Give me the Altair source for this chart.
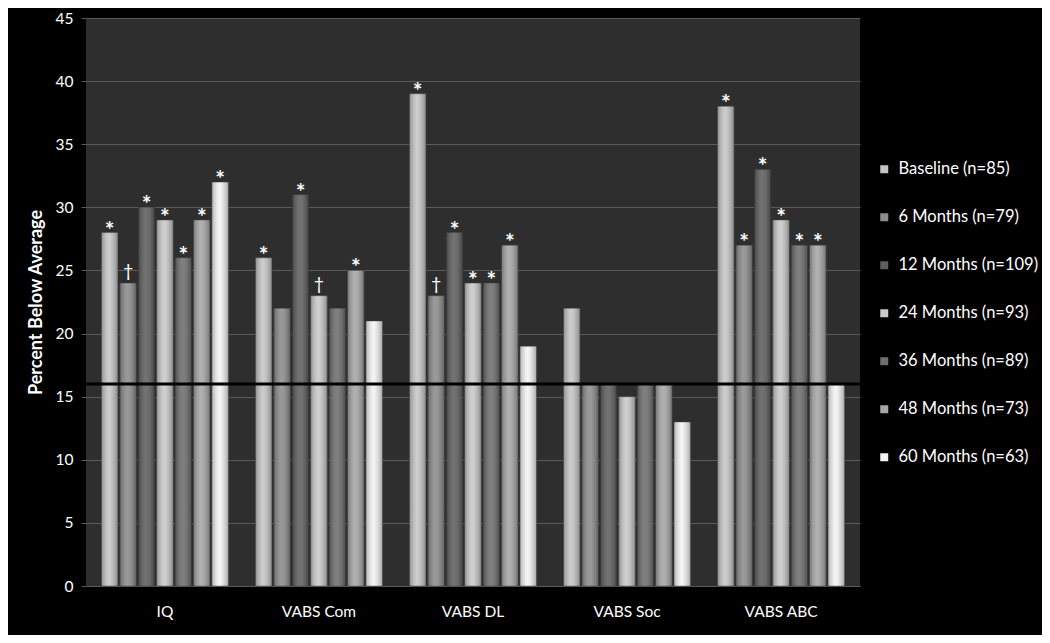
import altair as alt
import pandas as pd

measures = ["IQ", "VABS Com", "VABS DL", "VABS Soc", "VABS ABC"]
series = ["Baseline (n=85)", "6 Months (n=79)", "12 Months (n=109)", "24 Months (n=93)",
          "36 Months (n=89)", "48 Months (n=73)", "60 Months (n=63)"]
colors = ["#c6c6c6", "#8c8c8c", "#5e5e5e", "#cacaca", "#6e6e6e", "#a6a6a6", "#f4f4f4"]

baseline = [28, 26, 39, 22, 38]
m6 = [24, 22, 23, 16, 27]
m12 = [30, 31, 28, 16, 33]
m24 = [29, 23, 24, 15, 29]
m36 = [26, 22, 24, 16, 27]
m48 = [29, 25, 27, 16, 27]
m60 = [32, 21, 19, 13, 16]

baseline_sig = ["*", "*", "*", "", "*"]
m6_sig = ["†", "", "†", "", "*"]
m12_sig = ["*", "*", "*", "", "*"]
m24_sig = ["*", "†", "*", "", "*"]
m36_sig = ["*", "", "*", "", "*"]
m48_sig = ["*", "*", "*", "", "*"]
m60_sig = ["*", "", "", "", ""]

threshold = 16

values = [baseline, m6, m12, m24, m36, m48, m60]
sigs = [baseline_sig, m6_sig, m12_sig, m24_sig, m36_sig, m48_sig, m60_sig]
rows = []
for s, vals, sg in zip(series, values, sigs):
    for m, v, g in zip(measures, vals, sg):
        rows.append({"measure": m, "series": s, "value": v, "sig": g})
df = pd.DataFrame(rows)

FONT = "Lato"

x = alt.X("measure:N", sort=measures, title=None,
          scale=alt.Scale(paddingInner=0.175, paddingOuter=0.1),
          axis=alt.Axis(labelAngle=0, labelColor="white", labelFontSize=15.5, labelFont=FONT,
                        labelPadding=18, ticks=False, domainColor="#5a5a5a", grid=False))
xo = alt.XOffset("series:N", sort=series, scale=alt.Scale(paddingInner=0.1))
y = alt.Y("value:Q", title="Percent Below Average",
          scale=alt.Scale(domain=[0, 45], nice=False),
          axis=alt.Axis(values=list(range(0, 50, 5)), labelColor="white", labelFontSize=15.5,
                        labelFont=FONT, labelPadding=8, tickColor="#5a5a5a", tickSize=5,
                        gridColor="#5a5a5a", gridWidth=1.2, domain=False,
                        titleColor="white", titleFontSize=18, titleFont=FONT,
                        titleFontWeight="bold", titlePadding=10))

base = alt.Chart(df)

bars = base.mark_bar(stroke="#3a3a3a", strokeWidth=0.5).encode(
    x=x, xOffset=xo, y=y,
    color=alt.Color("series:N", sort=series, scale=alt.Scale(domain=series, range=colors),
                    legend=alt.Legend(title=None, orient="none", legendX=790, legendY=143,
                                      symbolType="square", symbolSize=64, symbolStrokeWidth=0,
                                      labelColor="white", labelFontSize=16.5, labelFont=FONT,
                                      rowPadding=31, labelOffset=6)),
)

shade = base.mark_bar(
    color=alt.Gradient(gradient="linear", x1=0, x2=1, y1=0, y2=0,
                       stops=[alt.GradientStop(color="rgba(0,0,0,0.28)", offset=0),
                              alt.GradientStop(color="rgba(255,255,255,0.12)", offset=0.45),
                              alt.GradientStop(color="rgba(0,0,0,0.32)", offset=1)])
).encode(x=x, xOffset=xo, y=y)

stars = base.transform_filter(alt.datum.sig == "*").mark_text(
    color="white", fontSize=23, fontWeight="bold", font=FONT, baseline="alphabetic", dy=5
).encode(x=x, xOffset=xo, y=y, text="sig:N")

daggers = base.transform_filter(alt.datum.sig == "†").mark_text(
    color="white", fontSize=18, font=FONT, baseline="alphabetic", dy=-6
).encode(x=x, xOffset=xo, y=y, text="sig:N")

rule = alt.Chart(pd.DataFrame({"t": [threshold]})).mark_rule(
    color="black", strokeWidth=3
).encode(y=alt.Y("t:Q"))

chart = alt.layer(bars, shade, stars, daggers, rule).properties(
    width=774, height=568,
    autosize=alt.AutoSizeParams(type="none"),
    padding={"left": 78, "top": 10, "right": 182, "bottom": 49},
    background="black",
).configure_view(fill="#2e2e2e", stroke=None)

chart.save("out.html", embed_options={"renderer": "svg", "actions": False})
